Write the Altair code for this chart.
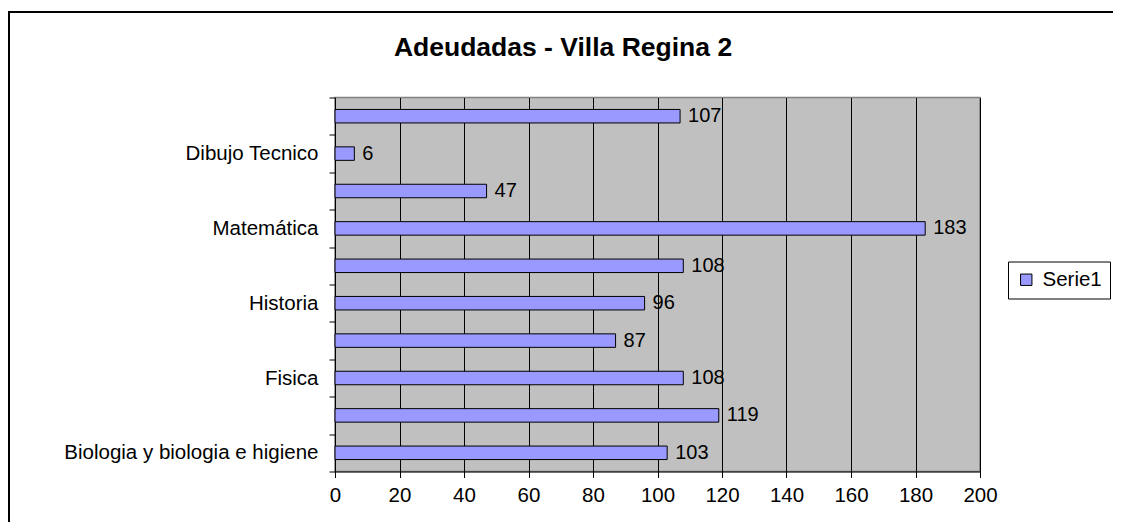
import altair as alt
import pandas as pd

# categories bottom-to-top (Excel order)
categories = ["Biologia y biologia e higiene", "Materia 2", "Fisica\u00a0", "Materia 4",
              "Historia", "Materia 6", "Matemática", "Materia 8", "Dibujo Tecnico", "Materia 10"]
shown = ["Biologia y biologia e higiene", "Fisica\u00a0", "Historia", "Matemática", "Dibujo Tecnico"]
values = [103, 119, 108, 87, 96, 108, 183, 47, 6, 107]
series = ["Serie1"] * len(values)
x_ticks = list(range(0, 201, 20))
title_text = ["Adeudadas - Villa Regina 2"]

df = pd.DataFrame({"cat": categories, "val": values, "serie": series})
order = categories[::-1]

FONT = "Liberation Sans"
shown_js = "[" + ",".join("'" + s + "'" for s in shown) + "]"

y_enc = alt.Y("cat:N", sort=order, title=None,
              scale=alt.Scale(paddingInner=0, paddingOuter=0),
              axis=alt.Axis(tickBand="extent", labelExpr=f"indexof({shown_js}, datum.value) >= 0 ? datum.value : ''",
                            labelFont=FONT, labelFontSize=20.5, labelColor="black", labelPadding=11,
                            tickColor="black", tickSize=6, domainColor="black", domainWidth=1,
                            grid=False, labelLimit=400))
x_enc = alt.X("val:Q", title=None,
              scale=alt.Scale(domain=[0, 200], nice=False),
              axis=alt.Axis(values=x_ticks, labelFont=FONT, labelFontSize=20.5, labelColor="black",
                            labelPadding=8, tickColor="black", tickSize=6, domainColor="black",
                            gridColor="black", gridWidth=1, grid=True, labelFlush=False))

bars = alt.Chart(df).mark_bar(size=13.5, stroke="black", strokeWidth=1).encode(
    x=x_enc, y=y_enc,
    color=alt.Color("serie:N", scale=alt.Scale(range=["#9999FF"]),
                    legend=alt.Legend(title=None, orient="none", legendX=673, legendY=164,
                                      symbolType="square", symbolSize=130, symbolStrokeColor="black",
                                      symbolStrokeWidth=1, symbolFillColor="#9999FF",
                                      labelFont=FONT, labelFontSize=20.5, labelColor="black",
                                      labelOffset=6, strokeColor="black", padding=8,
                                      fillColor="white"))
)

text = alt.Chart(df).mark_text(align="left", baseline="middle", dx=8, font=FONT, fontSize=20,
                               color="black").encode(
    x="val:Q", y=alt.Y("cat:N", sort=order), text="val:Q")

frame = alt.Chart(pd.DataFrame({"a": [0]})).mark_rect(
    fill="transparent", stroke="black", strokeWidth=2).encode(
    x=alt.value(-326), x2=alt.value(800), y=alt.value(-85.5), y2=alt.value(450))

title = alt.Chart(pd.DataFrame({"t": title_text})).mark_text(
    font=FONT, fontSize=26.5, fontWeight="bold", color="black", align="center",
    baseline="alphabetic").encode(text="t:N", x=alt.value(228), y=alt.value(-42))

chart = alt.layer(bars, text, frame, title).properties(
    width=645, height=374,
    autosize=alt.AutoSizeParams(type="none"),
    padding={"left": 327, "top": 89.5, "right": 133, "bottom": 50},
    background="white",
).configure_view(fill="#C0C0C0", stroke="#808080", strokeWidth=1.5)

chart.save("out.html", embed_options={"renderer": "svg", "actions": False})
